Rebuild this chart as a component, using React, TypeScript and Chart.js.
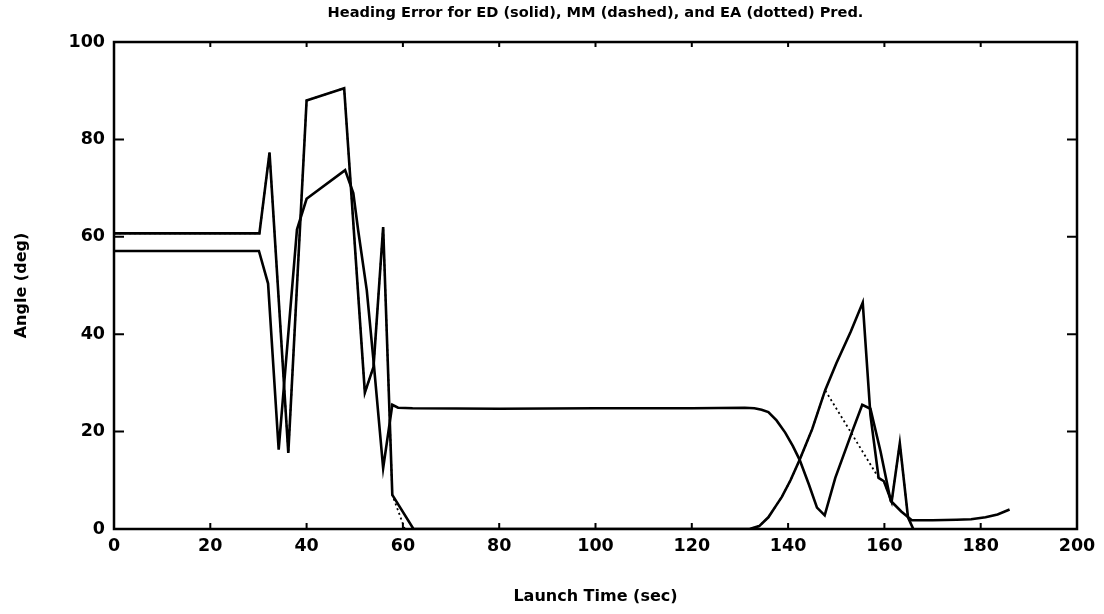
import React, { useEffect, useRef } from "react";
import { Chart, registerables } from "chart.js";

Chart.register(...registerables);

const chartTitle = "Heading Error for ED (solid), MM (dashed), and EA (dotted) Pred.";
const xAxisTitle = "Launch Time (sec)";
const yAxisTitle = "Angle (deg)";

const xTickValues = [0, 20, 40, 60, 80, 100, 120, 140, 160, 180, 200];
const yTickValues = [0, 20, 40, 60, 80, 100];

// ED prediction (solid)
const timeED = [0, 30.2, 32.3, 36.2, 40, 47.8, 52.1, 53.9, 55.9, 57.8, 62.2, 132, 134, 135.9, 137.5, 138.7, 140.5, 142.4, 145, 147.7, 150, 153, 155.5, 157.1, 158.8, 159.9, 161.5, 163.2, 164.9, 166];
const angleED = [60.7, 60.7, 77.3, 15.6, 88, 90.5, 28, 33.3, 62, 7, 0, 0, 0.6, 2.4, 4.8, 6.6, 10, 14.2, 20.5, 28.5, 34, 40.5, 46.5, 23.4, 10.5, 9.8, 5.6, 17.6, 2.4, 0];

// MM prediction (dashed)
const timeMM = [0, 30.1, 32, 34.2, 38, 40, 48, 49.7, 50.7, 52.5, 53.9, 55.9, 57.8, 59, 62, 80, 100, 120, 131, 133, 134.5, 135.9, 137.6, 139.4, 141, 142.4, 144.3, 146, 147.6, 149.8, 153.3, 155.4, 157.1, 159.2, 161.3, 163.5, 165.7, 170, 175, 178, 181, 183.5, 186];
const angleMM = [57.1, 57.1, 50.4, 16.3, 61.5, 67.8, 73.7, 69, 61.4, 49, 34.5, 12.5, 25.5, 24.9, 24.8, 24.7, 24.8, 24.8, 24.9, 24.8, 24.5, 24.0, 22.3, 19.8, 17.0, 14.2, 9.2, 4.4, 2.8, 10.5, 20, 25.5, 24.7, 15.9, 5.8, 3.6, 1.8, 1.8, 1.9, 2.0, 2.4, 3.0, 4.0];

// EA prediction (dotted)
const timeEA = [0, 30.2, 32.3, 36.2, 40, 47.8, 52.1, 53.9, 55.9, 57.8, 60.4, 132, 134, 135.9, 137.5, 138.7, 140.5, 142.4, 145, 147.7, 158.8, 159.9, 161.5, 163.2, 164.9, 166];
const angleEA = [60.7, 60.7, 77.3, 15.6, 88, 90.5, 28, 33.3, 62, 7, 0, 0, 0.6, 2.4, 4.8, 6.6, 10, 14.2, 20.5, 28.5, 10.5, 9.8, 5.6, 17.6, 2.4, 0];

const toPoints = (xs: number[], ys: number[]) => xs.map((x, i) => ({ x, y: ys[i] }));

const FONT = "'DejaVu Sans', 'Liberation Sans', sans-serif";

const framePlugin = {
  id: "frameTicks",
  afterDatasetsDraw(chart: any) {
    const { ctx, chartArea } = chart;
    const { left, right, top, bottom } = chartArea;
    const xs = chart.scales.x;
    const ys = chart.scales.y;
    ctx.save();
    ctx.strokeStyle = "#000";
    ctx.lineWidth = 2.5;
    ctx.strokeRect(left, top, right - left, bottom - top);
    ctx.lineWidth = 2;
    ctx.beginPath();
    for (const v of xTickValues) {
      const px = xs.getPixelForValue(v);
      ctx.moveTo(px, bottom);
      ctx.lineTo(px, bottom - 6);
      ctx.moveTo(px, top);
      ctx.lineTo(px, top + 5);
    }
    for (const v of yTickValues) {
      const py = ys.getPixelForValue(v);
      ctx.moveTo(left, py);
      ctx.lineTo(left + 10, py);
      ctx.moveTo(right, py);
      ctx.lineTo(right - 10, py);
    }
    ctx.stroke();
    ctx.restore();
  },
};

export default function App() {
  const canvasRef = useRef<HTMLCanvasElement | null>(null);

  useEffect(() => {
    if (!canvasRef.current) return;
    const chart = new Chart(canvasRef.current, {
      type: "line",
      data: {
        datasets: [
          {
            label: "ED",
            data: toPoints(timeED, angleED),
            borderColor: "#000",
            borderWidth: 2.6,
            pointRadius: 0,
            tension: 0,
            fill: false,
          },
          {
            label: "MM",
            data: toPoints(timeMM, angleMM),
            borderColor: "#000",
            borderWidth: 2.6,
            pointRadius: 0,
            tension: 0,
            fill: false,
          },
          {
            label: "EA",
            data: toPoints(timeEA, angleEA),
            borderColor: "#000",
            borderWidth: 1.8,
            borderDash: [2, 3],
            pointRadius: 0,
            tension: 0,
            fill: false,
          },
        ],
      },
      options: {
        animation: false,
        responsive: true,
        maintainAspectRatio: false,
        layout: { padding: { left: 0, right: 27, top: 0, bottom: 0 } },
        plugins: {
          legend: { display: false },
          tooltip: { enabled: false },
          title: {
            display: true,
            text: chartTitle,
            fullSize: false,
            color: "#000",
            font: { family: FONT, size: 14.6, weight: "bold" },
            padding: { top: 4.2, bottom: 20.3 },
          },
        },
        scales: {
          x: {
            type: "linear",
            min: 0,
            max: 200,
            grid: { display: false, drawTicks: false },
            border: { display: false },
            ticks: {
              stepSize: 20,
              autoSkip: false,
              maxRotation: 0,
              padding: 7,
              color: "#000",
              font: { family: FONT, size: 17.5, weight: "bold" },
            },
            title: {
              display: true,
              text: xAxisTitle,
              color: "#000",
              font: { family: FONT, size: 16, weight: "bold" },
              padding: { top: 0, bottom: 8 },
            },
            afterFit: (scale: any) => {
              scale.height = 85;
            },
          },
          y: {
            type: "linear",
            min: 0,
            max: 100,
            grid: { display: false, drawTicks: false },
            border: { display: false },
            ticks: {
              stepSize: 20,
              autoSkip: false,
              padding: 9,
              color: "#000",
              font: { family: FONT, size: 17.5, weight: "bold" },
            },
            title: {
              display: true,
              text: yAxisTitle,
              color: "#000",
              font: { family: FONT, size: 16, weight: "bold" },
              padding: { top: 12, bottom: 0 },
            },
            afterFit: (scale: any) => {
              scale.width = 114;
            },
          },
        },
      },
      plugins: [framePlugin],
    });
    return () => chart.destroy();
  }, []);

  return (
    <div style={{ position: "fixed", left: 0, top: 0, width: 1104, height: 614, background: "#fff" }}>
      <canvas ref={canvasRef} style={{ display: "block" }} />
    </div>
  );
}
